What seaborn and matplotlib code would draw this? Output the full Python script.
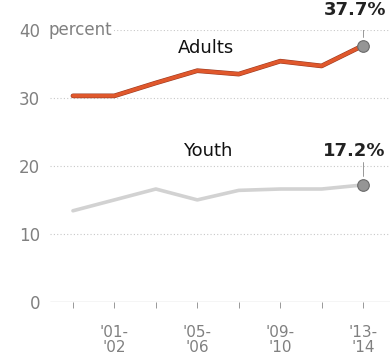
import matplotlib
matplotlib.use("Agg")
import matplotlib.pyplot as plt
import matplotlib.patheffects as pe
import seaborn as sns
import pandas as pd

periods = ["'99-\n'00", "'01-\n'02", "'03-\n'04", "'05-\n'06", "'07-\n'08", "'09-\n'10", "'11-\n'12", "'13-\n'14"]
adults = [30.3, 30.3, 32.2, 34.0, 33.5, 35.4, 34.7, 37.7]
youth = [13.4, 15.0, 16.6, 15.0, 16.4, 16.6, 16.6, 17.2]
shown_labels = ["", "'01-\n'02", "", "'05-\n'06", "", "'09-\n'10", "", "'13-\n'14"]
yticks = [0, 10, 20, 30, 40]

df = pd.DataFrame({
    "x": list(range(len(periods))) * 2,
    "value": adults + youth,
    "group": ["Adults"] * len(adults) + ["Youth"] * len(youth),
})

sns.set_style("white")
plt.rcParams["font.family"] = ["DejaVu Sans"]

fig = plt.figure(figsize=(3.9, 3.56), dpi=100)
ax = fig.add_axes([0.128, 0.152, 0.872, 0.764])

for yv in yticks[1:]:
    ax.axhline(yv, color="#c8c8c8", lw=0.8, ls=(0, (1, 2)), zorder=0)
ax.axhline(0, color="#555555", lw=0.8, zorder=1)

sns.lineplot(data=df, x="x", y="value", hue="group",
             palette={"Adults": "#e0582c", "Youth": "#d2d2d2"},
             lw=2.6, legend=False, ax=ax, zorder=3)
for ln in ax.get_lines():
    if ln.get_color() == "#e0582c":
        ln.set_path_effects([pe.Stroke(linewidth=3.4, foreground="#9a3a22"), pe.Normal()])

n = len(periods) - 1
ax.scatter([n, n], [adults[-1], youth[-1]], s=70, color="#959595",
           edgecolor="#6a6a6a", linewidth=0.8, zorder=5)

ax.set_xlim(-0.556, 7.65)
ax.set_ylim(0, 40)
for s in ax.spines.values():
    s.set_visible(False)

ax.set_xticks(range(len(periods)))
ax.set_xticklabels(shown_labels, color="#808080", fontsize=11, linespacing=0.92)
ax.tick_params(axis="x", length=4, width=0.6, color="#888888", pad=13, bottom=True)
ax.set_yticks(yticks)
ax.set_yticklabels([str(v) for v in yticks], color="#808080", fontsize=12)
ax.tick_params(axis="y", length=0, pad=7)
ax.set_xlabel("")
ax.set_ylabel("")

ax.text(-0.58, 40, "percent", ha="left", va="center", fontsize=12, color="#808080",
        bbox=dict(facecolor="white", edgecolor="none", pad=1), zorder=2)

ax.text(3.2, 37.4, "Adults", ha="center", va="center", fontsize=13, color="#111111")
ax.text(3.25, 22.2, "Youth", ha="center", va="center", fontsize=13, color="#111111")

ax.text(7.55, 43.0, "37.7%", ha="right", va="center", fontsize=13, fontweight="bold",
        color="#222222", clip_on=False)
ax.plot([n, n], [39.0, 41.0], color="#888888", lw=0.6, zorder=4)
ax.text(7.55, 22.2, "17.2%", ha="right", va="center", fontsize=13, fontweight="bold",
        color="#222222", clip_on=False)
ax.plot([n, n], [18.5, 20.5], color="#888888", lw=0.6, zorder=4)

fig.savefig("out.png", dpi=100)
